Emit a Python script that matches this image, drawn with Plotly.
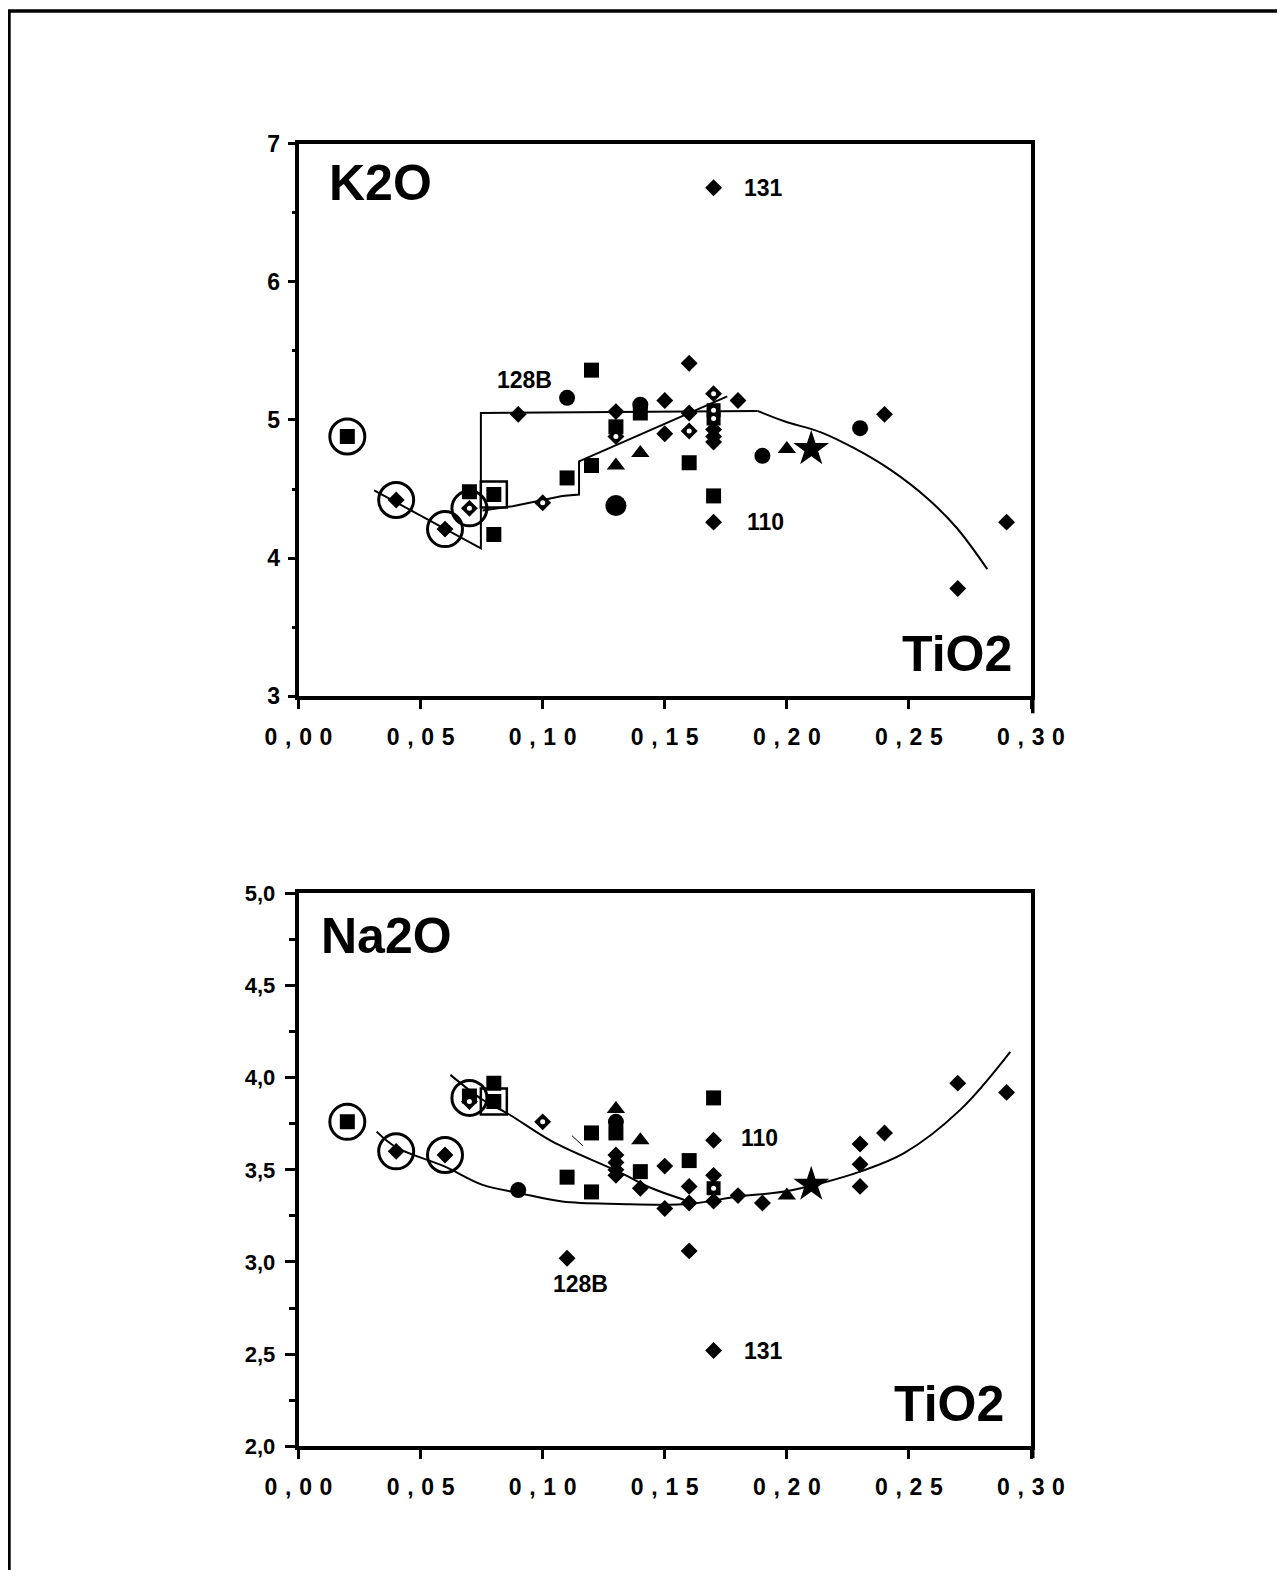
import plotly.graph_objects as go

# ---------------- data: top panel (K2O vs TiO2) ----------------
k_dia_x = [0.04, 0.06, 0.09, 0.13, 0.15, 0.15, 0.16, 0.16, 0.17, 0.17, 0.17, 0.17, 0.17, 0.18, 0.24, 0.27, 0.29]
k_dia_y = [4.42, 4.21, 5.04, 5.06, 5.14, 4.90, 5.41, 5.05, 6.68, 4.93, 4.88, 4.84, 4.26, 5.14, 5.04, 3.78, 4.26]
k_ddia_x = [0.07, 0.10, 0.13, 0.16, 0.17]
k_ddia_y = [4.36, 4.40, 4.88, 4.92, 5.19]
k_sq_x = [0.02, 0.07, 0.08, 0.08, 0.11, 0.12, 0.12, 0.13, 0.14, 0.16, 0.17]
k_sq_y = [4.88, 4.48, 4.46, 4.17, 4.58, 5.36, 4.67, 4.95, 5.05, 4.69, 4.45]
k_dsq_x = [0.17, 0.17]
k_dsq_y = [5.07, 5.01]
k_circ_x = [0.11, 0.14, 0.19, 0.23]
k_circ_y = [5.16, 5.11, 4.74, 4.94]
k_bigc_x = [0.13]
k_bigc_y = [4.38]
k_tri_x = [0.13, 0.14, 0.20]
k_tri_y = [4.67, 4.76, 4.79]
k_star_x = [0.21]
k_star_y = [4.79]
k_ring_x = [0.02, 0.04, 0.06, 0.07]
k_ring_y = [4.88, 4.42, 4.21, 4.36]
k_frame_x = [0.08]
k_frame_y = [4.46]
# trend lines
k_l1_x = [0.031, 0.0747, 0.0747, 0.188]
k_l1_y = [4.49, 4.07, 5.05, 5.065]
k_l1c_x = [0.188, 0.199, 0.214, 0.2276, 0.2425, 0.2575, 0.2697, 0.2821]
k_l1c_y = [5.065, 4.99, 4.91, 4.795, 4.638, 4.433, 4.216, 3.92]
k_l2_x = [0.0754, 0.0877, 0.108, 0.1149, 0.1149, 0.1678, 0.1756]
k_l2_y = [4.345, 4.376, 4.45, 4.46, 4.70, 5.11, 5.17]
k_lab_text = ["131", "128B", "110"]
k_lab_x = [0.1818, 0.0803, 0.183]
k_lab_y = [6.68, 5.29, 4.26]

# ---------------- data: bottom panel (Na2O vs TiO2) ----------------
n_dia_x = [0.04, 0.06, 0.11, 0.13, 0.13, 0.13, 0.13, 0.14, 0.15, 0.15, 0.16, 0.16, 0.16, 0.17, 0.17,
           0.17, 0.17, 0.18, 0.19, 0.23, 0.23, 0.23, 0.24, 0.27, 0.29]
n_dia_y = [3.60, 3.58, 3.02, 3.58, 3.54, 3.50, 3.47, 3.40, 3.52, 3.29, 3.41, 3.32, 3.06, 3.66, 3.47,
           3.33, 2.52, 3.36, 3.32, 3.64, 3.53, 3.41, 3.70, 3.97, 3.92]
n_ddia_x = [0.07, 0.10]
n_ddia_y = [3.87, 3.76]
n_sq_x = [0.02, 0.07, 0.08, 0.08, 0.11, 0.12, 0.12, 0.13, 0.14, 0.16, 0.17]
n_sq_y = [3.76, 3.90, 3.97, 3.87, 3.46, 3.70, 3.38, 3.70, 3.49, 3.55, 3.89]
n_dsq_x = [0.17]
n_dsq_y = [3.40]
n_circ_x = [0.09, 0.13]
n_circ_y = [3.39, 3.76]
n_tri_x = [0.13, 0.14, 0.20]
n_tri_y = [3.83, 3.66, 3.36]
n_star_x = [0.21]
n_star_y = [3.42]
n_ring_x = [0.02, 0.04, 0.06, 0.07]
n_ring_y = [3.76, 3.60, 3.58, 3.89]
n_frame_x = [0.08]
n_frame_y = [3.87]
n_la_x = [0.032, 0.04, 0.06, 0.0754, 0.0906, 0.108, 0.131, 0.16, 0.18, 0.199, 0.214, 0.23, 0.248, 0.271, 0.2915]
n_la_y = [3.707, 3.622, 3.517, 3.418, 3.373, 3.328, 3.315, 3.315, 3.355, 3.382, 3.427, 3.49, 3.59, 3.825, 4.14]
n_lb_x = [0.0622, 0.0754, 0.0863, 0.104, 0.131, 0.1447, 0.158, 0.162]
n_lb_y = [4.015, 3.88, 3.80, 3.653, 3.49, 3.40, 3.337, 3.32]
n_tick_x = [0.112, 0.1165]
n_tick_y = [3.685, 3.63]
n_lab_text = ["110", "128B", "131"]
n_lab_x = [0.1806, 0.1035, 0.1818]
n_lab_y = [3.673, 2.881, 2.518]

x_tickvals = [0.0, 0.05, 0.10, 0.15, 0.20, 0.25, 0.30]
x_ticklabels = ["0,00", "0,05", "0,10", "0,15", "0,20", "0,25", "0,30"]
k_tickvals = [3, 4, 5, 6, 7]
k_ticklabels = ["3", "4", "5", "6", "7"]
n_tickvals = [2.0, 2.5, 3.0, 3.5, 4.0, 4.5, 5.0]
n_ticklabels = ["2,0", "2,5", "3,0", "3,5", "4,0", "4,5", "5,0"]

FONT = "Liberation Sans, Arial, Helvetica, sans-serif"
W, H = 1269, 1562

fig = go.Figure()


def add_line(xs, ys, xa, ya, shape="linear", width=2.0):
    fig.add_trace(go.Scatter(x=xs, y=ys, mode="lines", xaxis=xa, yaxis=ya,
                             line=dict(color="black", width=width, shape=shape),
                             showlegend=False, hoverinfo="skip"))


def add_mk(xs, ys, xa, ya, symbol, size, color="black", lw=0):
    fig.add_trace(go.Scatter(x=xs, y=ys, mode="markers", xaxis=xa, yaxis=ya,
                             marker=dict(symbol=symbol, size=size, color=color,
                                         line=dict(width=lw, color="black")),
                             showlegend=False, hoverinfo="skip"))


def panel(xa, ya, l_specs, ring, frame, dia, ddia, sq, dsq, circ, bigc, tri, star):
    for xs, ys, shp, w in l_specs:
        add_line(xs, ys, xa, ya, shp, w)
    add_mk(ring[0], ring[1], xa, ya, "circle-open", 35, lw=3)
    add_mk(frame[0], frame[1], xa, ya, "square-open", 26, lw=2.5)
    add_mk(dia[0], dia[1], xa, ya, "diamond", 13)
    add_mk(ddia[0], ddia[1], xa, ya, "diamond", 13)
    add_mk(sq[0], sq[1], xa, ya, "square", 15)
    add_mk(dsq[0], dsq[1], xa, ya, "square", 14)
    add_mk(circ[0], circ[1], xa, ya, "circle", 16)
    add_mk(bigc[0], bigc[1], xa, ya, "circle", 21)
    add_mk(tri[0], tri[1], xa, ya, "triangle-up", 16)
    add_mk(star[0], star[1], xa, ya, "star", 27)
    add_mk(ddia[0], ddia[1], xa, ya, "circle", 5, color="white")
    add_mk(dsq[0], dsq[1], xa, ya, "circle", 5, color="white")


panel("x", "y",
      [(k_l1_x, k_l1_y, "linear", 2.0), (k_l1c_x, k_l1c_y, "spline", 2.0), (k_l2_x, k_l2_y, "linear", 2.0)],
      (k_ring_x, k_ring_y), (k_frame_x, k_frame_y), (k_dia_x, k_dia_y), (k_ddia_x, k_ddia_y),
      (k_sq_x, k_sq_y), (k_dsq_x, k_dsq_y), (k_circ_x, k_circ_y), (k_bigc_x, k_bigc_y),
      (k_tri_x, k_tri_y), (k_star_x, k_star_y))

panel("x2", "y2",
      [(n_la_x, n_la_y, "spline", 2.0), (n_lb_x, n_lb_y, "spline", 2.0), (n_tick_x, n_tick_y, "linear", 1.0)],
      (n_ring_x, n_ring_y), (n_frame_x, n_frame_y), (n_dia_x, n_dia_y), (n_ddia_x, n_ddia_y),
      (n_sq_x, n_sq_y), (n_dsq_x, n_dsq_y), (n_circ_x, n_circ_y), ([], []),
      (n_tri_x, n_tri_y), (n_star_x, n_star_y))

sp = "\u2004"
x_ticktext = [sp.join(list(t)) for t in x_ticklabels]

tickfont = dict(family=FONT, size=23, color="black", weight="bold")
xdom = [290.5 / W, 1023 / W]
ydom_top = [1 - 688.3 / H, 1 - 135.5 / H]
ydom_bot = [1 - 1438.3 / H, 1 - 885.3 / H]
xcommon = dict(range=[0, 0.30], domain=xdom, tickmode="array", tickvals=x_tickvals, ticktext=x_ticktext,
               ticks="outside", ticklen=9, tickwidth=2.5, tickcolor="black",
               showline=True, linewidth=3.5, linecolor="black", mirror=True, automargin=False,
               showgrid=False, zeroline=False, tickfont=tickfont, ticklabelstandoff=8)

fig.update_layout(
    width=W, height=H, autosize=False,
    margin=dict(l=0, r=0, t=0, b=0, pad=0, autoexpand=False),
    paper_bgcolor="white", plot_bgcolor="white", showlegend=False,
    xaxis=dict(anchor="y", **xcommon),
    xaxis2=dict(anchor="y2", **xcommon),
    yaxis=dict(anchor="x", domain=ydom_top, range=[3, 7],
               tickmode="array", tickvals=k_tickvals, ticktext=k_ticklabels,
               ticks="outside", ticklen=7, tickwidth=3, tickcolor="black",
               minor=dict(dtick=0.5, tick0=3, ticks="outside", ticklen=3, tickwidth=3,
                          tickcolor="black", showgrid=False),
               showline=True, linewidth=3.5, linecolor="black", mirror=True, automargin=False,
               showgrid=False, zeroline=False, tickfont=dict(family=FONT, size=23, color="black", weight="bold"),
               ticklabelstandoff=3),
    yaxis2=dict(anchor="x2", domain=ydom_bot, range=[2, 5],
                tickmode="array", tickvals=n_tickvals, ticktext=n_ticklabels,
                ticks="outside", ticklen=10, tickwidth=3, tickcolor="black",
                minor=dict(dtick=0.25, tick0=2, ticks="outside", ticklen=6, tickwidth=3,
                           tickcolor="black", showgrid=False),
                showline=True, linewidth=3.5, linecolor="black", mirror=True, automargin=False,
                showgrid=False, zeroline=False, tickfont=dict(family=FONT, size=22, color="black", weight="bold"),
                ticklabelstandoff=5),
)

ann = []
bigfont = dict(family=FONT, size=50, color="black", weight="bold")
labfont = dict(family=FONT, size=23, color="black", weight="bold")
ann.append(dict(text="K2O", x=0.0118, y=6.717, xref="x", yref="y", xanchor="left", yanchor="middle",
                showarrow=False, font=bigfont))
ann.append(dict(text="TiO2", x=0.2931, y=3.306, xref="x", yref="y", xanchor="right", yanchor="middle",
                showarrow=False, font=bigfont))
ann.append(dict(text="Na2O", x=0.0082, y=4.768, xref="x2", yref="y2", xanchor="left", yanchor="middle",
                showarrow=False, font=bigfont))
ann.append(dict(text="TiO2", x=0.2898, y=2.231, xref="x2", yref="y2", xanchor="right", yanchor="middle",
                showarrow=False, font=bigfont))
for t, x, y in zip(k_lab_text, k_lab_x, k_lab_y):
    ann.append(dict(text=t, x=x, y=y, xref="x", yref="y", xanchor="left", yanchor="middle",
                    showarrow=False, font=labfont))
for t, x, y in zip(n_lab_text, n_lab_x, n_lab_y):
    ann.append(dict(text=t, x=x, y=y, xref="x2", yref="y2", xanchor="left", yanchor="middle",
                    showarrow=False, font=labfont))
fig.update_layout(annotations=ann)

# page frame (top and left rules)
fig.add_shape(type="line", xref="paper", yref="paper", x0=0, x1=1, y0=1 - 3 / H, y1=1 - 3 / H,
              line=dict(color="black", width=3.5))
fig.add_shape(type="line", xref="paper", yref="paper", x0=1.2 / W, x1=1.2 / W, y0=0, y1=1 - 3 / H,
              line=dict(color="black", width=3))
# right frame lines run slightly past the bottom axis, as in the original
xr = xdom[1] + 1.75 / W
fig.add_shape(type="line", xref="paper", yref="paper", x0=xr, x1=xr,
              y0=ydom_top[0] - 17 / H, y1=ydom_top[0], line=dict(color="black", width=3.5))
fig.add_shape(type="line", xref="paper", yref="paper", x0=xr, x1=xr,
              y0=ydom_bot[0] - 12 / H, y1=ydom_bot[0], line=dict(color="black", width=3.5))

fig.write_html("out.html")
